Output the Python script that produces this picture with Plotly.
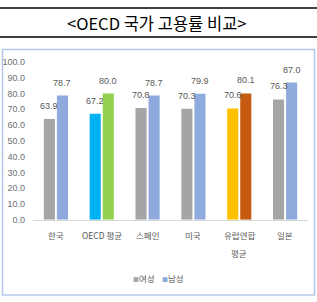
import plotly.graph_objects as go

categories = ["한국", "OECD 평균", "스페인", "미국", "유럽연합 평균", "일본"]
category_lines = [["한국"], ["OECD 평균"], ["스페인"], ["미국"], ["유럽연합", "평균"], ["일본"]]
female = [63.9, 67.2, 70.8, 70.3, 70.6, 76.3]
male = [78.7, 80.0, 78.7, 79.9, 80.1, 87.0]
female_colors = ["#A5A5A5", "#00B0F0", "#A5A5A5", "#A5A5A5", "#FFC000", "#A5A5A5"]
male_colors = ["#8FAADC", "#92D050", "#8FAADC", "#8FAADC", "#C55A11", "#8FAADC"]
legend_names = ["여성", "남성"]
legend_colors = ["#A5A5A5", "#8FAADC"]
y_ticks = [0, 10, 20, 30, 40, 50, 60, 70, 80, 90, 100]

W, H = 317, 302
font_kr = "Noto Sans CJK KR"
font_num = "Liberation Sans Narrow, Liberation Sans, sans-serif"

def py(p):
    return (H - p) / H

fig = go.Figure()
series = [(legend_names[0], female, female_colors, -6.5), (legend_names[1], male, male_colors, 6.5)]
annotations = []
for name, vals, cols, dx in series:
    fig.add_trace(go.Bar(
        x=categories, y=vals, name=name,
        marker=dict(color=cols, line=dict(width=0)),
        showlegend=False,
    ))
    for c, v in zip(categories, vals):
        annotations.append(dict(
            x=c, y=v, xref="x", yref="y", text=f"{v:.1f}", showarrow=False,
            xshift=dx, yshift=13, xanchor="center", yanchor="middle",
            font=dict(size=9, color="#595959", family=font_num),
        ))

for c, lines in zip(categories, category_lines):
    for i, t in enumerate(lines):
        annotations.append(dict(
            x=c, xref="x", y=py(238 + 18 * i), yref="paper", text=t, showarrow=False,
            xanchor="center", yanchor="middle",
            font=dict(size=8.5, color="#595959", family=font_kr),
        ))

legend_x = [144, 173]
for n, c, lx in zip(legend_names, legend_colors, legend_x):
    annotations.append(dict(text=f"<span style='color:{c};font-size:6px'>■</span>{n}",
                            xref="paper", yref="paper", x=lx / W, y=py(282),
                            xanchor="center", yanchor="middle", showarrow=False,
                            font=dict(size=8.5, color="#595959", family=font_kr)))
annotations.append(dict(text="&lt;OECD 국가 고용률 비교&gt;", xref="paper", yref="paper",
                        x=157 / W, y=py(18.5), xanchor="center", yanchor="middle", showarrow=False,
                        font=dict(size=16.5, color="black", family=font_kr)))

fig.update_layout(
    width=W, height=H,
    margin=dict(l=0, r=0, t=0, b=0),
    paper_bgcolor="white", plot_bgcolor="white",
    barmode="group", bargap=0.43, bargroupgap=0.15,
    font=dict(family=font_kr, color="#595959"),
    xaxis=dict(domain=[33 / W, 308 / W], showgrid=False, showline=True,
               linecolor="#D9D9D9", linewidth=1, ticks="", showticklabels=False,
               fixedrange=True),
    yaxis=dict(domain=[py(222), py(59)], range=[0, 100], tickvals=y_ticks,
               tickformat=".1f", showgrid=False, zeroline=False, showline=False,
               tickfont=dict(size=9, color="#6F6F6F", family=font_num), ticks="",
               ticklabelstandoff=7),
    shapes=[
        dict(type="line", xref="paper", yref="paper", x0=0, x1=1, y0=py(3), y1=py(3),
             line=dict(color="black", width=1.5)),
        dict(type="line", xref="paper", yref="paper", x0=0, x1=1, y0=py(33), y1=py(33),
             line=dict(color="black", width=1.5)),
        dict(type="rect", xref="paper", yref="paper", x0=2.5 / W, x1=314.5 / W,
             y0=py(300), y1=py(46), line=dict(color="#B4C7E7", width=1.5)),
    ],
    annotations=annotations,
)

fig.write_html("out.html")
